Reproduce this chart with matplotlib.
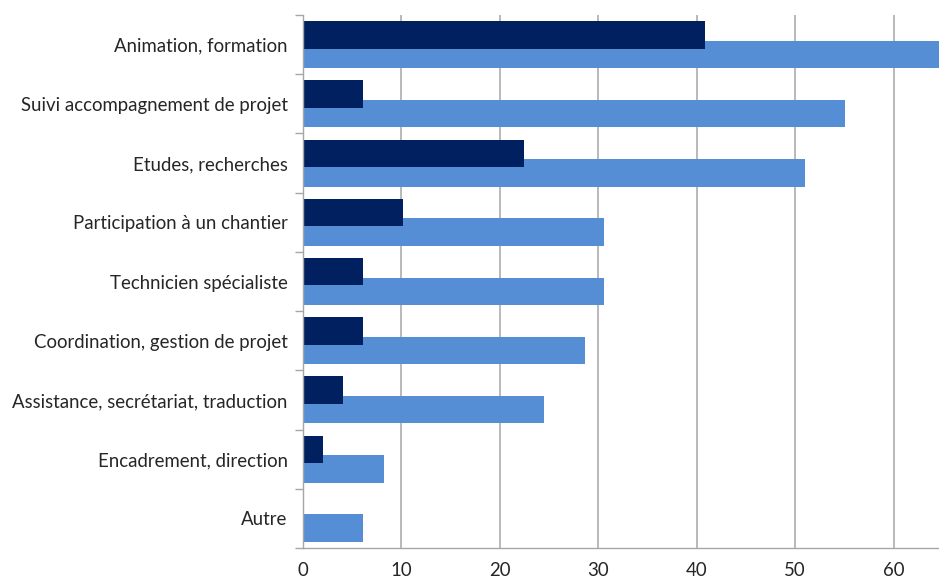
import numpy as np
import matplotlib
matplotlib.use("Agg")
import matplotlib.pyplot as plt

# Catégories de rôles (du haut vers le bas) et pourcentages des deux séries
categories = [
    "Animation, formation",
    "Suivi accompagnement de projet",
    "Etudes, recherches",
    "Participation à un chantier",
    "Technicien spécialiste",
    "Coordination, gestion de projet",
    "Assistance, secrétariat, traduction",
    "Encadrement, direction",
    "Autre",
]
serie_fonce = [40.8, 6.1, 22.4, 10.2, 6.1, 6.1, 4.1, 2.0, 0.0]
serie_clair = [65.3, 55.1, 51.0, 30.6, 30.6, 28.6, 24.5, 8.2, 6.1]
ticks_x = [0, 10, 20, 30, 40, 50, 60]

plt.rcParams["font.family"] = ["Lato", "DejaVu Sans"]

fig = plt.figure(figsize=(9.39, 5.81), dpi=100)
ax = fig.add_axes([303 / 939, 1 - 548 / 581, 1 - 303 / 939, (548 - 15) / 581])

y = np.arange(len(categories))
h = 0.465
off = 0.165

ax.barh(y + off, serie_clair, height=h, color="#558ed5", zorder=2)
ax.barh(y - off, serie_fonce, height=h, color="#002060", zorder=3)

ax.set_ylim(len(categories) - 0.5, -0.5)
ax.set_xlim(0, 64.6)

ax.set_yticks(y)
ax.set_yticklabels(categories, fontsize=13.4, color="#262626")
ax.set_yticks(np.arange(len(categories) + 1) - 0.5, minor=True)
ax.tick_params(axis="y", which="major", length=0, pad=11)
ax.tick_params(axis="y", which="minor", length=6, color="#a6a6a6", width=1)

ax.set_xticks(ticks_x)
ax.set_xticklabels([str(t) for t in ticks_x], fontsize=13.4, color="#262626")
ax.tick_params(axis="x", length=0, pad=10)

ax.grid(axis="x", color="#b3b3b3", linewidth=1.3, zorder=0)
ax.set_axisbelow(True)

for s in ["top", "right"]:
    ax.spines[s].set_visible(False)
for s in ["left", "bottom"]:
    ax.spines[s].set_color("#a6a6a6")
    ax.spines[s].set_linewidth(1)
ax.spines["left"].set_zorder(4)

fig.savefig("out.png", dpi=100)
